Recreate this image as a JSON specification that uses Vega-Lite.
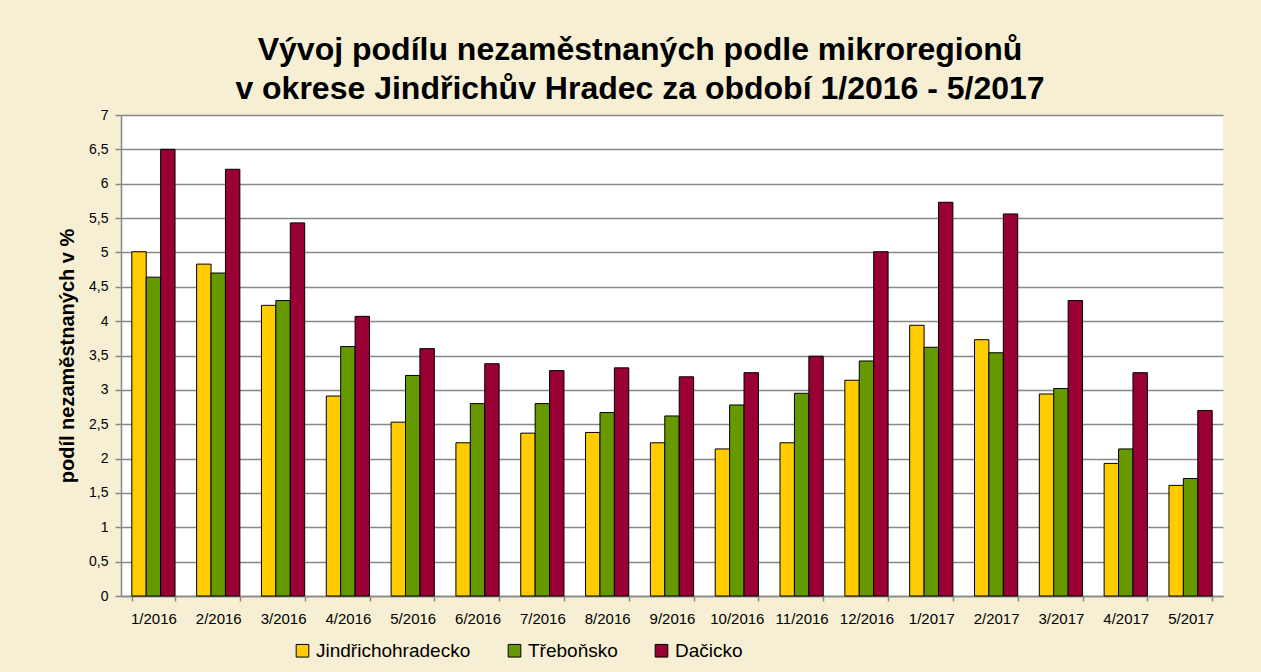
{
  "$schema": "https://vega.github.io/schema/vega-lite/v6.json",
  "width": 1102,
  "height": 481,
  "autosize": {"type": "none"},
  "padding": {"left": 121, "top": 115, "right": 38, "bottom": 76},
  "background": "#F6EFD3",
  "title": {
    "text": ["Vývoj podílu nezaměstnaných podle mikroregionů", "v okrese Jindřichův Hradec za období 1/2016 - 5/2017"],
    "font": "Liberation Sans, Arial, sans-serif",
    "fontSize": 32,
    "fontWeight": "bold",
    "color": "#000000",
    "lineHeight": 39,
    "anchor": "middle",
    "dx": -32,
    "offset": 2
  },
  "data": {
    "values": [
      {"m": "1/2016", "r": "Jindřichohradecko", "v": 5.01},
      {"m": "1/2016", "r": "Třeboňsko", "v": 4.64},
      {"m": "1/2016", "r": "Dačicko", "v": 6.50},
      {"m": "2/2016", "r": "Jindřichohradecko", "v": 4.83},
      {"m": "2/2016", "r": "Třeboňsko", "v": 4.70},
      {"m": "2/2016", "r": "Dačicko", "v": 6.21},
      {"m": "3/2016", "r": "Jindřichohradecko", "v": 4.23},
      {"m": "3/2016", "r": "Třeboňsko", "v": 4.30},
      {"m": "3/2016", "r": "Dačicko", "v": 5.43},
      {"m": "4/2016", "r": "Jindřichohradecko", "v": 2.91},
      {"m": "4/2016", "r": "Třeboňsko", "v": 3.63},
      {"m": "4/2016", "r": "Dačicko", "v": 4.07},
      {"m": "5/2016", "r": "Jindřichohradecko", "v": 2.53},
      {"m": "5/2016", "r": "Třeboňsko", "v": 3.21},
      {"m": "5/2016", "r": "Dačicko", "v": 3.60},
      {"m": "6/2016", "r": "Jindřichohradecko", "v": 2.23},
      {"m": "6/2016", "r": "Třeboňsko", "v": 2.80},
      {"m": "6/2016", "r": "Dačicko", "v": 3.38},
      {"m": "7/2016", "r": "Jindřichohradecko", "v": 2.37},
      {"m": "7/2016", "r": "Třeboňsko", "v": 2.80},
      {"m": "7/2016", "r": "Dačicko", "v": 3.28},
      {"m": "8/2016", "r": "Jindřichohradecko", "v": 2.38},
      {"m": "8/2016", "r": "Třeboňsko", "v": 2.67},
      {"m": "8/2016", "r": "Dačicko", "v": 3.32},
      {"m": "9/2016", "r": "Jindřichohradecko", "v": 2.23},
      {"m": "9/2016", "r": "Třeboňsko", "v": 2.62},
      {"m": "9/2016", "r": "Dačicko", "v": 3.19},
      {"m": "10/2016", "r": "Jindřichohradecko", "v": 2.14},
      {"m": "10/2016", "r": "Třeboňsko", "v": 2.78},
      {"m": "10/2016", "r": "Dačicko", "v": 3.25},
      {"m": "11/2016", "r": "Jindřichohradecko", "v": 2.23},
      {"m": "11/2016", "r": "Třeboňsko", "v": 2.95},
      {"m": "11/2016", "r": "Dačicko", "v": 3.49},
      {"m": "12/2016", "r": "Jindřichohradecko", "v": 3.14},
      {"m": "12/2016", "r": "Třeboňsko", "v": 3.42},
      {"m": "12/2016", "r": "Dačicko", "v": 5.01},
      {"m": "1/2017", "r": "Jindřichohradecko", "v": 3.94},
      {"m": "1/2017", "r": "Třeboňsko", "v": 3.62},
      {"m": "1/2017", "r": "Dačicko", "v": 5.73},
      {"m": "2/2017", "r": "Jindřichohradecko", "v": 3.73},
      {"m": "2/2017", "r": "Třeboňsko", "v": 3.54},
      {"m": "2/2017", "r": "Dačicko", "v": 5.56},
      {"m": "3/2017", "r": "Jindřichohradecko", "v": 2.94},
      {"m": "3/2017", "r": "Třeboňsko", "v": 3.02},
      {"m": "3/2017", "r": "Dačicko", "v": 4.30},
      {"m": "4/2017", "r": "Jindřichohradecko", "v": 1.93},
      {"m": "4/2017", "r": "Třeboňsko", "v": 2.14},
      {"m": "4/2017", "r": "Dačicko", "v": 3.25},
      {"m": "5/2017", "r": "Jindřichohradecko", "v": 1.61},
      {"m": "5/2017", "r": "Třeboňsko", "v": 1.71},
      {"m": "5/2017", "r": "Dačicko", "v": 2.70}
    ]
  },
  "mark": {"type": "bar", "stroke": "#000000", "strokeWidth": 1},
  "encoding": {
    "x": {
      "field": "m",
      "type": "nominal",
      "sort": null,
      "scale": {"paddingInner": 0.333, "paddingOuter": 0.1667},
      "axis": {
        "title": null,
        "labelAngle": 0,
        "labelFont": "Liberation Sans, Arial, sans-serif",
        "labelFontSize": 15,
        "labelColor": "#000000",
        "labelPadding": 10,
        "domainColor": "#888888",
        "domainWidth": 1.5,
        "tickColor": "#888888",
        "tickBand": "extent",
        "tickSize": 5,
        "tickWidth": 1.5,
        "labelOverlap": false,
        "labelBound": false,
        "grid": false
      }
    },
    "xOffset": {
      "field": "r",
      "type": "nominal",
      "sort": ["Jindřichohradecko", "Třeboňsko", "Dačicko"]
    },
    "y": {
      "field": "v",
      "type": "quantitative",
      "scale": {"domain": [0, 7], "nice": false},
      "axis": {
        "title": "podíl  nezaměstnaných v %",
        "titleFont": "Liberation Sans, Arial, sans-serif",
        "titleFontSize": 20,
        "titleFontWeight": "bold",
        "titleColor": "#000000",
        "titlePadding": 11,
        "values": [0, 0.5, 1, 1.5, 2, 2.5, 3, 3.5, 4, 4.5, 5, 5.5, 6, 6.5, 7],
        "labelExpr": "replace(toString(datum.value), '.', ',')",
        "labelFont": "Liberation Sans, Arial, sans-serif",
        "labelFontSize": 14,
        "labelColor": "#000000",
        "labelPadding": 7,
        "domainColor": "#888888",
        "domainWidth": 1.5,
        "tickColor": "#888888",
        "tickSize": 6,
        "tickWidth": 1.5,
        "gridColor": "#888888",
        "gridWidth": 1.5
      }
    },
    "fill": {
      "field": "r",
      "type": "nominal",
      "sort": ["Jindřichohradecko", "Třeboňsko", "Dačicko"],
      "scale": {
        "domain": ["Jindřichohradecko", "Třeboňsko", "Dačicko"],
        "range": ["#FFCC00", "#669900", "#990033"]
      },
      "legend": {
        "title": null,
        "orient": "none",
        "direction": "horizontal",
        "legendX": 172,
        "legendY": 526,
        "symbolType": "square",
        "symbolSize": 160,
        "symbolStrokeColor": "#000000",
        "symbolStrokeWidth": 1,
        "labelFont": "Liberation Sans, Arial, sans-serif",
        "labelFontSize": 19,
        "labelLimit": 400,
        "labelColor": "#000000",
        "labelOffset": 4,
        "columnPadding": 34,
        "symbolOffset": 0
      }
    }
  },
  "config": {
    "view": {"fill": "#FFFFFF", "stroke": null}
  }
}
